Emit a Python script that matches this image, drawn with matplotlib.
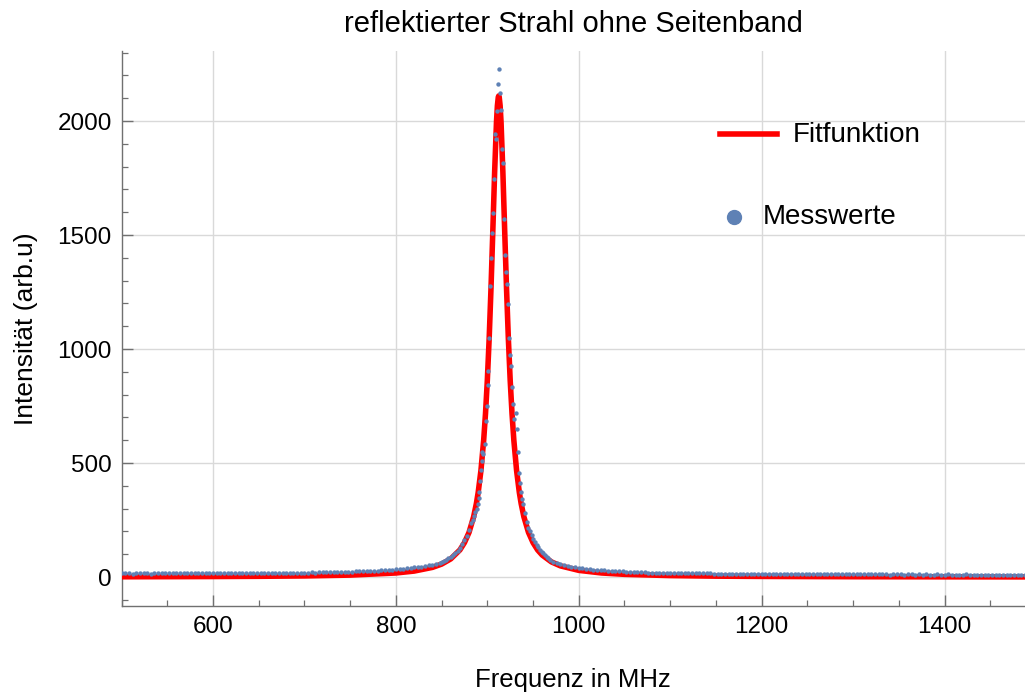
import numpy as np
import matplotlib.pyplot as plt
from matplotlib.lines import Line2D
from matplotlib.ticker import MultipleLocator

plt.rcParams['font.family'] = ['Liberation Sans', 'DejaVu Sans']

# measured values: flat left part (every 4 MHz)
left_freq = np.arange(500, 849, 4)
left_int = [16, 17, 16, 15, 17, 16, 16, 17, 15, 16, 17, 16, 16, 17, 16, 17, 16, 16, 17, 16, 17, 17, 16, 17, 17,
            17, 18, 17, 17, 18, 17, 18, 18, 17, 18, 18, 17, 18, 19, 18, 18, 19, 18, 19, 19, 18, 19, 19, 20, 19,
            20, 20, 21, 20, 21, 21, 22, 21, 22, 23, 22, 23, 24, 24, 25, 25, 26, 26, 27, 28, 28, 29, 30, 31, 32,
            34, 35, 37, 38, 40, 42, 44, 46, 49, 52, 55, 58, 62]

# measured values around the resonance
peak_freq = [850, 852.5, 855, 857.5, 860, 862.5, 865, 867.5, 870, 872.5, 875, 877.5, 880, 882.5,
             884, 885.5, 887, 888.5, 889.5, 890.5, 891.4, 892.1, 892.9, 893.7, 894.6, 895.7, 897.3,
             898.4, 899.5, 900.5, 901.2, 902.3, 903.4, 904.5, 905.3, 906.7, 907.8, 908.5, 910.0,
             910.7, 911.8, 912.9, 914.0, 915.1, 916.2, 917.3, 918.0, 919.5, 920.2, 921.3, 922.4,
             923.5, 924.6, 925.7, 926.8, 927.9, 929.7, 931.5, 932.9, 934.0, 934.8, 935.9, 937.0,
             938.1, 939.5, 941.4, 943.2, 945.0, 946.8, 948.7, 950.4, 952.3, 954.1, 955.9, 957.8,
             959.6, 961.4, 963.2, 965.0, 966.8, 968.7]
peak_int = [67, 72, 77, 83, 90, 97, 106, 116, 129, 144, 161, 182, 206, 236,
            250, 268, 285, 300, 320, 345, 374, 420, 470, 510, 550, 539, 582,
            684, 750, 842, 903, 1047, 1275, 1400, 1510, 1595, 1747, 1943, 1922,
            2043, 2164, 2227, 2121, 2050, 1876, 1817, 1572, 1412, 1338, 1286, 1196,
            1047, 975, 925, 833, 760, 693, 718, 649, 550, 455, 411, 374,
            341, 320, 279, 243, 214, 200, 184, 168, 155, 142, 131, 120,
            112, 104, 96, 90, 84, 77]

# measured values: right tail (every 4 MHz)
right_freq = np.arange(972, 1489, 4)
right_int = [68, 63, 57, 53, 49, 46, 43, 40, 38, 36,
             34, 33, 31, 30, 29, 28, 27, 26, 25, 25,
             24, 23, 23, 22, 21, 21, 20, 20, 20, 19,
             19, 19, 18, 18, 18, 17, 17, 17, 17, 16,
             16, 16, 16, 16, 15, 15, 15, 15, 15, 15,
             14, 15, 14, 14, 15, 14, 14, 14, 13, 14,
             14, 13, 14, 13, 13, 14, 13, 13, 13, 14,
             13, 13, 12, 13, 13, 13, 12, 13, 12, 13,
             12, 13, 12, 12, 13, 12, 12, 12, 13, 12,
             12, 12, 11, 12, 12, 12, 11, 12, 12, 11,
             12, 11, 12, 11, 11, 12, 11, 11, 12, 11,
             11, 11, 11, 12, 11, 11, 10, 11, 11, 11,
             11, 10, 11, 11, 10, 11, 11, 10, 11, 10]

# fit curve
fit_freq = [500, 550, 600, 650, 700, 750, 800, 820, 840, 850, 860, 870, 875, 880, 885, 888, 890,
            893, 896, 898, 900, 902, 904, 906, 908, 910, 911, 912, 912.5, 913, 914, 915, 917,
            919, 921, 923, 925, 927, 929, 932, 935, 937, 940, 945, 950, 955, 960, 970, 980,
            1000, 1025, 1050, 1100, 1150, 1200, 1300, 1400, 1490]
fit_int = [1.3, 1.7, 2.3, 3.3, 5.0, 8.6, 17.9, 26.3, 42.5, 56.9, 79.7, 119, 151, 196, 264, 322, 371,
           467, 600, 717, 863, 1045, 1265, 1517, 1777, 1995, 2067, 2105, 2110, 2105, 2067, 1995, 1777,
           1517, 1265, 1045, 863, 717, 600, 467, 371, 322, 264, 196, 151, 119, 96.5, 66.8, 49,
           29.4, 17.9, 12.0, 6.5, 4.0, 2.8, 1.5, 1.0, 0.7]

data_freq = np.concatenate([left_freq, peak_freq, right_freq])
data_int = np.concatenate([left_int, peak_int, right_int])

blue = '#5e81b5'
frame_col = '#707070'

fig = plt.figure(figsize=(10.25, 6.93), dpi=100)
ax = fig.add_axes([0.1186, 0.1255, 0.8814, 0.8009])

ax.plot(fit_freq, fit_int, color='red', lw=4, solid_capstyle='butt', zorder=3)
ax.scatter(data_freq, data_int, s=10, color=blue, linewidths=0, zorder=4)

ax.set_xlim(500, 1488)
ax.set_ylim(-127, 2307)

ax.xaxis.set_major_locator(MultipleLocator(200))
ax.xaxis.set_minor_locator(MultipleLocator(50))
ax.yaxis.set_major_locator(MultipleLocator(500))
ax.yaxis.set_minor_locator(MultipleLocator(100))

ax.grid(True, which='major', color='#d9d9d9', lw=1.0, zorder=0)
ax.set_axisbelow(True)

for side in ['top', 'right']:
    ax.spines[side].set_visible(False)
for side in ['left', 'bottom']:
    ax.spines[side].set_color(frame_col)
    ax.spines[side].set_linewidth(1.0)

ax.tick_params(which='both', direction='in', color=frame_col, labelsize=17.5, top=False, right=False)
ax.tick_params(which='major', length=8, width=1.0, pad=7)
ax.tick_params(which='minor', length=4.5, width=0.9)

ax.set_title('reflektierter Strahl ohne Seitenband', fontsize=21, pad=14)
ax.set_xlabel('Frequenz in MHz', fontsize=18.5, labelpad=22)
ax.set_ylabel('Intensität (arb.u)', fontsize=19, labelpad=14)

# legend drawn by hand like the original
fig.add_artist(Line2D([0.7024, 0.758], [0.8066, 0.8066], color='red', lw=4,
                      transform=fig.transFigure))
fig.text(0.7737, 0.8055, 'Fitfunktion', fontsize=20, va='center', ha='left')
fig.add_artist(Line2D([0.716], [0.687], marker='o', markersize=10, color=blue, lw=0,
                      transform=fig.transFigure))
fig.text(0.7444, 0.687, 'Messwerte', fontsize=20, va='center', ha='left')

fig.savefig('out.png', dpi=100)
